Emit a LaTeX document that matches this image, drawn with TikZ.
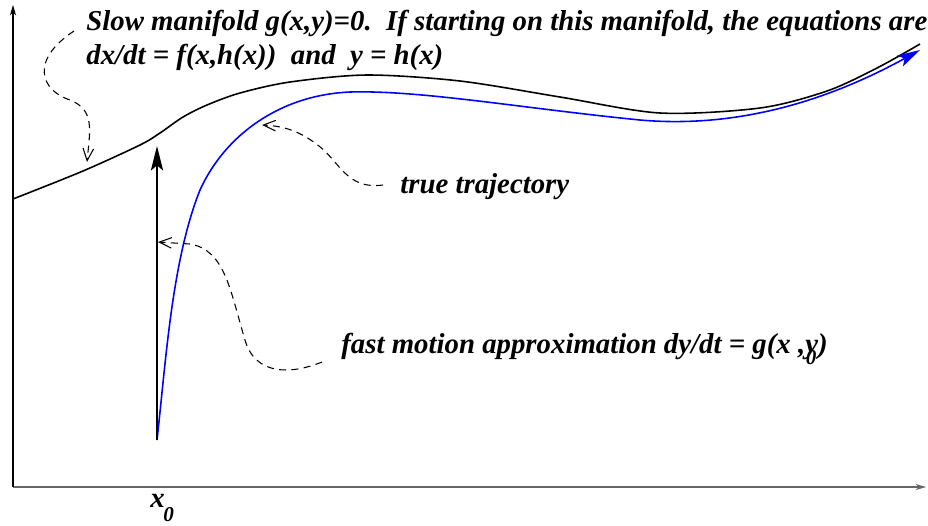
\documentclass[tikz,border=0pt]{standalone}
\usepackage{fontspec}
\setmainfont{Liberation Serif}
\usetikzlibrary{arrows.meta}
\begin{document}
\begin{tikzpicture}[x=0.02cm,y=-0.02cm,
  lbl/.style={font=\fontsize{16.4}{19}\selectfont\bfseries\itshape, inner sep=0pt, anchor=base west},
  sub/.style={font=\fontsize{12}{14}\selectfont\bfseries\itshape, inner sep=0pt, anchor=base west},
  dashlink/.style={dash pattern=on 4pt off 3pt, line width=0.6pt, -{Straight Barb[length=7pt,width=6pt]}},
  axis/.style={line width=0.6pt}]
\useasboundingbox (0,0) rectangle (928,525);
% axes
\coordinate (O) at (13,487);
\coordinate (ytop) at (13,5);
\coordinate (xend) at (926,487);
\draw[axis, black!60, -{Stealth[length=6pt,width=3.5pt]}] (O) -- (xend);
\draw[axis, -{Stealth[length=6pt,width=3.5pt]}] (O) -- (ytop);
% slow manifold
\draw[line width=0.9pt] plot[smooth, tension=0.5] coordinates {
 (13,199) (83,171) (140,145) (160,133) (183,117) (207,105) (240,93) (290,82) (367,75) (460,81)
 (560,97) (660,113) (760,108) (827,91) (877,68) (920,44)};
% true trajectory
\draw[blue, line width=0.9pt, -{Stealth[length=13pt,width=7pt,inset=3pt]}]
 (157,440) .. controls (166,360) and (172,260) .. (200,190)
 .. controls (225,135) and (280,95) .. (350,92)
 .. controls (420,90) and (520,108) .. (640,120)
 .. controls (730,128) and (820,105) .. (920,50);
% fast motion arrow
\coordinate (fb) at (157,440);
\coordinate (ft) at (157,146);
\draw[line width=0.9pt, -{Stealth[length=14pt,width=7pt,inset=3pt]}] (fb) -- (ft);
% labels
\node[lbl] (slow1) at (86,30) {Slow manifold g(x,y)=0.\ \ If starting on this manifold, the equations are};
\node[lbl] (slow2) at (86,64) {dx/dt = f(x,h(x))\ \ and\ \ y = h(x)};
\node[lbl] (truet) at (400,193) {true trajectory};
\node[lbl] (fast) at (341,353) {fast motion approximation dy/dt = g(x ,y\rlap{\kern-0.42em\raisebox{-0.85ex}{\fontsize{12}{14}\selectfont 0}})};
\node[lbl] (x0) at (150,507) {x};
\node[sub] (x0sub) at (163,521) {0};
% dashed pointers
\coordinate (s1) at (74,31);
\coordinate (s2) at (87,162);
\draw[dashlink] (s1) .. controls (30,60) and (40,90) .. (70,100) .. controls (95,110) and (90,130) .. (s2);
\coordinate (t1) at (383,185);
\coordinate (t2) at (262,125);
\draw[dashlink] (t1) .. controls (345,190) and (340,160) .. (315,143) .. controls (300,132) and (285,126) .. (t2);
\coordinate (m1) at (322,362);
\coordinate (m2) at (158,242);
\draw[dashlink] (m1) .. controls (290,375) and (255,375) .. (245,340) .. controls (230,290) and (225,250) .. (190,244) -- (m2);
\end{tikzpicture}
\end{document}
